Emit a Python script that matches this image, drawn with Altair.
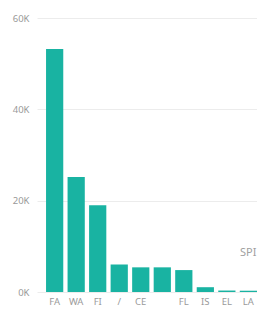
import altair as alt
import pandas as pd

categories = ["FA", "WA", "FI", "/", "CE", " ", "FL", "IS", "EL", "LA"]
counts = [53200, 25200, 19000, 6000, 5400, 5400, 4800, 1050, 320, 280]
y_ticks = [0, 20000, 40000, 60000]

df = pd.DataFrame({"category": categories, "count": counts})
ann = pd.DataFrame({"category": ["LA"], "count": [8500], "label": ["SPI"]})

font = "Noto Sans"
x_enc = alt.X("category:N", sort=categories, title=None,
              scale=alt.Scale(paddingInner=0.2, paddingOuter=0.21, align=1),
              axis=alt.Axis(labelAngle=0, ticks=False, domain=False, labelPadding=4,
                            labelColor="#9a9a9a", labelFont=font, labelFontSize=9.5))
y_enc = alt.Y("count:Q", title=None,
              scale=alt.Scale(domain=[0, 60000], nice=False),
              axis=alt.Axis(values=y_ticks, labelExpr="datum.value/1000 + 'K'",
                            ticks=False, domain=False, labelPadding=8,
                            grid=True, gridColor="#ececec", gridWidth=1,
                            labelColor="#9a9a9a", labelFont=font, labelFontSize=9.5))

bars = alt.Chart(df).mark_bar(color="#19B3A2").encode(x=x_enc, y=y_enc)
txt = alt.Chart(ann).mark_text(align="right", dx=8, color="#a0a0a0", font=font,
                               fontSize=11).encode(
    x=alt.X("category:N", sort=categories), y="count:Q", text="label:N")

chart = alt.layer(bars, txt).properties(
    width=220, height=274,
    autosize=alt.AutoSizeParams(type="none"),
    padding={"left": 29, "top": 10, "right": 0, "bottom": 19},
).configure_view(stroke=None)

chart.save("out.html", embed_options={"renderer": "svg", "actions": False})
